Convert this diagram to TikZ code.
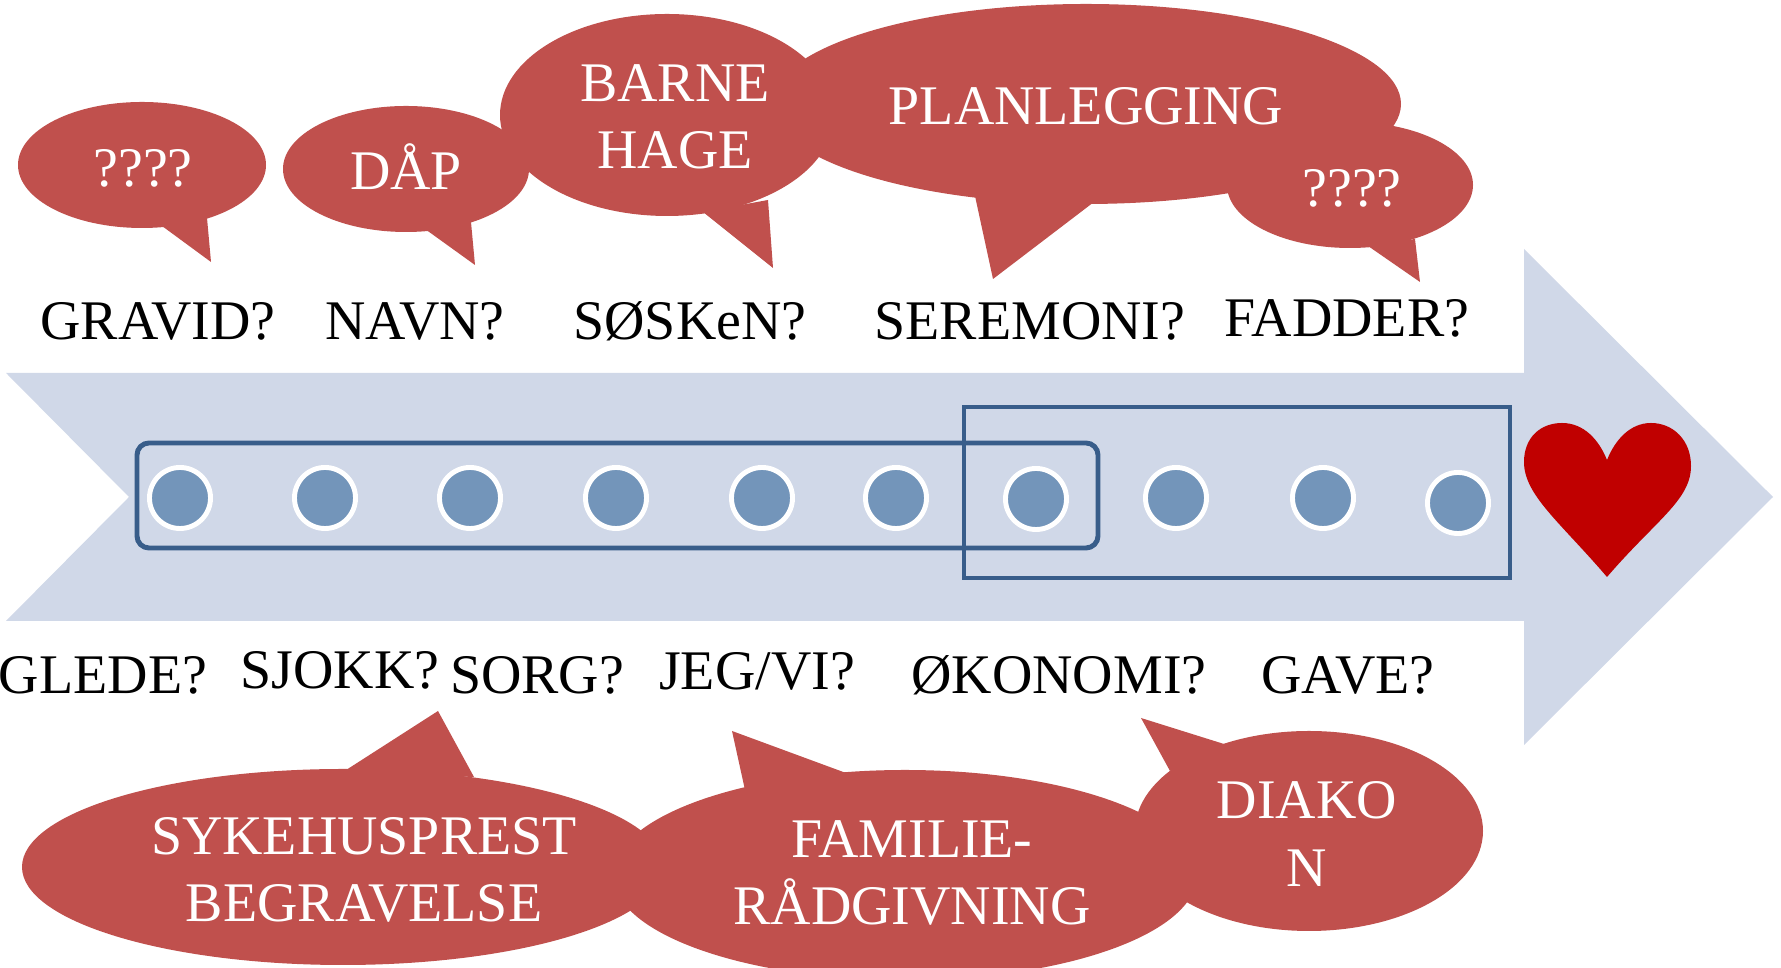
\documentclass[tikz,border=0pt]{standalone}
\usepackage{fontspec}
\setmainfont{Liberation Serif}
\usepackage{tikz}
\definecolor{mred}{RGB}{192, 80, 77}
\definecolor{mgrey}{RGB}{208, 216, 232}
\definecolor{mblue}{RGB}{115, 149, 186}
\definecolor{mdark}{RGB}{56, 93, 138}
\definecolor{mheart}{RGB}{192, 0, 0}
\tikzset{stage/.style = {circle, fill = mblue, draw = white, line width = 1.4pt, minimum size = 6.1mm, inner sep = 0}}
\tikzset{frame/.style = {draw = mdark, line width = 1.4pt}}
\tikzset{ask/.style = {font = \fontsize{15.9}{19.1}\selectfont, anchor = base, inner sep = 0}}
\tikzset{say/.style = {font = \fontsize{15.9}{19.1}\selectfont, text = white, align = center, inner sep = 0}}

\begin{document}
\begin{tikzpicture}[x = 0.01cm, y = -0.01cm]
      \useasboundingbox (0, 0) rectangle (1781, 968);

      % arrow
      \fill [mgrey] (6, 373) -- (1524, 373) -- (1524, 249) -- (1773, 497) -- (1524, 745)
        -- (1524, 621) -- (6, 621) -- (129, 497) -- cycle;

      \draw [frame, rounded corners = 3.4pt] (137, 443) rectangle (1098, 548);
      \draw [frame] (964, 407) rectangle (1510, 578);

      \node [stage] (s1) at (180, 498) {};
      \node [stage] (s2) at (325, 498) {};
      \node [stage] (s3) at (470, 498) {};
      \node [stage] (s4) at (616, 498) {};
      \node [stage] (s5) at (762, 498) {};
      \node [stage] (s6) at (896, 498) {};
      \node [stage] (s7) at (1036, 499) {};
      \node [stage] (s8) at (1176, 498) {};
      \node [stage] (s9) at (1323, 498) {};
      \node [stage] (s10) at (1458, 503) {};

      % heart
      \fill [mheart] (1607, 577) .. controls (1560, 522) and (1524, 495) .. (1524, 462)
        .. controls (1524, 437) and (1541, 423) .. (1562, 423)
        .. controls (1584, 423) and (1599, 440) .. (1607, 460)
        .. controls (1615, 440) and (1630, 423) .. (1651, 423)
        .. controls (1673, 423) and (1691, 440) .. (1691, 466)
        .. controls (1691, 500) and (1656, 520) .. (1607, 577) -- cycle;

      % bubbles above
      \fill [mred] (142, 165) ellipse [x radius = 124, y radius = 63];
      \fill [mred] (162, 226) -- (211, 262) -- (207, 218) -- cycle;
      \fill [mred] (406, 169) ellipse [x radius = 123, y radius = 63];
      \fill [mred] (425, 229) -- (475, 265) -- (471, 222) -- cycle;
      \fill [mred] (667, 115) ellipse [x radius = 167, y radius = 101];
      \fill [mred] (703, 212) -- (773, 268) -- (768, 200) -- cycle;
      \fill [mred] (1086, 104) ellipse [x radius = 315, y radius = 100];
      \fill [mred] (975, 196) -- (993, 279) -- (1094, 202) -- cycle;
      \fill [mred] (1350, 185) ellipse [x radius = 123, y radius = 63];
      \fill [mred] (1368, 246) -- (1420, 282) -- (1415, 239) -- cycle;

      % bubbles below
      \fill [mred] (343, 867) ellipse [x radius = 321, y radius = 98];
      \fill [mred] (343, 772) -- (438, 711) -- (474, 777) -- cycle;
      \fill [mred] (905, 875) ellipse [x radius = 292, y radius = 105];
      \fill [mred] (745, 790) -- (732, 731) -- (846, 773) -- cycle;
      \fill [mred] (1309, 831) ellipse [x radius = 174, y radius = 100];
      \fill [mred] (1170, 771) -- (1141, 718) -- (1224, 744) -- cycle;

      \node [say, anchor = base] (q1) at (143, 187) {????};
      \node [say, anchor = base] (daap) at (406, 190) {DÅP};
      \node [say] (bhage) at (675, 117) {BARNE\\HAGE};
      \node [say, anchor = base] (plan) at (1086, 125) {PLANLEGGING};
      \node [say, anchor = base] (q2) at (1352, 207) {????};
      \node [say] (prest) at (364, 870) {SYKEHUSPREST\\BEGRAVELSE};
      \node [say] (famr) at (912, 873) {FAMILIE-\\RÅDGIVNING};
      \node [say] (diakon) at (1307, 834) {DIAKO\\N};

      \node [ask] (gravid) at (158, 340) {GRAVID?};
      \node [ask] (navn) at (415, 340) {NAVN?};
      \node [ask] (sosken) at (690, 340) {SØSKeN?};
      \node [ask] (seremoni) at (1030, 340) {SEREMONI?};
      \node [ask] (fadder) at (1347, 337) {FADDER?};

      \node [ask] (glede) at (103, 694) {GLEDE?};
      \node [ask] (sjokk) at (340, 689) {SJOKK?};
      \node [ask] (sorg) at (537, 694) {SORG?};
      \node [ask] (jegvi) at (757, 690) {JEG/VI?};
      \node [ask] (okonomi) at (1059, 694) {ØKONOMI?};
      \node [ask] (gave) at (1348, 694) {GAVE?};
\end{tikzpicture}
\end{document}
